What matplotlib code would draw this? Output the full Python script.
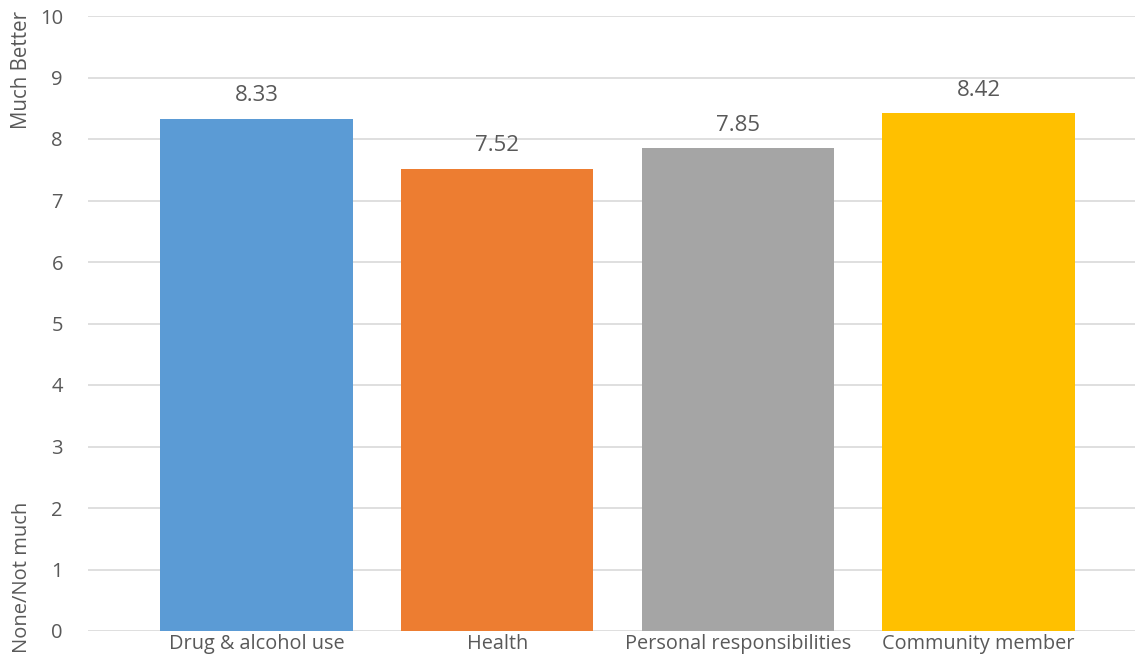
import matplotlib
matplotlib.use("Agg")
import matplotlib.pyplot as plt

categories = ["Drug & alcohol use", "Health", "Personal responsibilities", "Community member"]
values = [8.33, 7.52, 7.85, 8.42]
colors = ["#5B9BD5", "#ED7D31", "#A5A5A5", "#FFC000"]
yticks = list(range(0, 11))

plt.rcParams['font.family'] = ['Open Sans', 'DejaVu Sans']
txt = "#595959"

fig = plt.figure(figsize=(11.38, 6.56), dpi=100)
ax = fig.add_axes([88/1138, 1-631/656, (1135-88)/1138, (631-16)/656])

x = list(range(len(categories)))
bars = ax.bar(x, values, width=0.80, color=colors, zorder=3)
for xi, v in zip(x, values):
    ax.annotate(f"{v:.2f}", (xi, v), xytext=(0, 9), textcoords="offset points",
                ha="center", va="bottom", fontsize=16, color=txt)

ax.set_xlim(-0.70, 3.65)
ax.set_ylim(0, 10)
ax.set_yticks(yticks)
ax.set_yticklabels([str(t) for t in yticks], fontsize=14.5, color=txt)
ax.set_xticks(x)
ax.set_xticklabels(categories, fontsize=14.3, color=txt)
ax.tick_params(axis='both', length=0)
ax.tick_params(axis='y', pad=18)
ax.tick_params(axis='x', pad=2)
ax.grid(axis='y', color="#D9D9D9", linewidth=1.2, zorder=0)
for s in ax.spines.values():
    s.set_visible(False)

fig.text(22/1138, 1-70/656, "Much Better", rotation=90, ha="center", va="center", fontsize=14.8, color=txt)
fig.text(22/1138, 1-577/656, "None/Not much", rotation=90, ha="center", va="center", fontsize=14.5, color=txt)

fig.savefig("out.png", dpi=100)
